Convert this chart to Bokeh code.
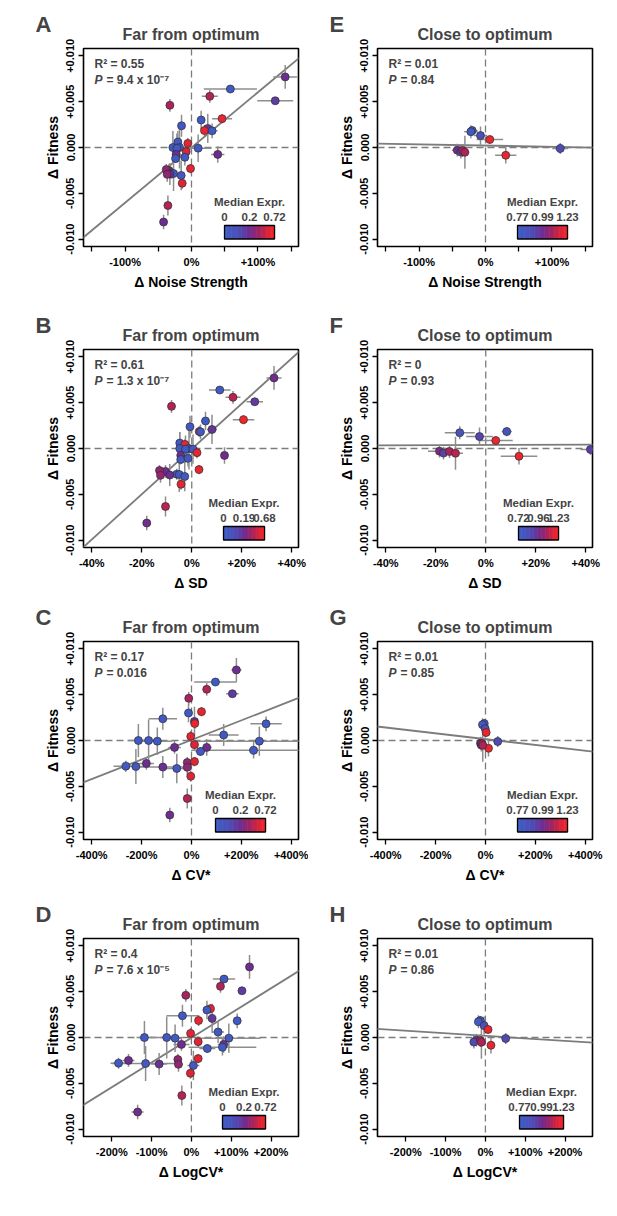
import numpy as np
from bokeh.plotting import figure
from bokeh.models import (Range1d, FixedTicker, CustomJSTickFormatter, Span, Slope,
                          Label, BoxAnnotation, ColumnDataSource, Title)
from bokeh.layouts import column, row
from bokeh.embed import file_html
from bokeh.resources import INLINE

FONT = "Liberation Sans"

# ---------------- data: mutants far from optimum (33) ----------------
far_fitness = [0.00770, 0.00638, 0.00558, 0.00510, 0.00460, 0.00315, 0.00300, 0.00237,
               0.00208, 0.00185, 0.00182, 0.00060, 0.00045, 0.00000, 0.00000, -0.00007,
               -0.00007, -0.00045, -0.00075, -0.00075, -0.00120, -0.00107, -0.00250, -0.00240,
               -0.00230, -0.00280, -0.00284, -0.00290, -0.00305, -0.00293, -0.00390, -0.00633,
               -0.00813]
far_fitness_err = [0.0013, 0.0003, 0.0007, 0.0003, 0.0007, 0.0005, 0.0010, 0.0012,
                   0.0016, 0.0006, 0.0008, 0.0012, 0.0006, 0.0018, 0.0023, 0.0015,
                   0.0016, 0.0006, 0.0007, 0.0009, 0.0005, 0.0009, 0.0007, 0.0006,
                   0.0005, 0.0006, 0.0019, 0.0012, 0.0016, 0.0008, 0.0006, 0.0011,
                   0.0008]
far_expr = [0.20, 0.03, 0.45, 0.16, 0.42, 0.65, 0.03, 0.04, 0.17, 0.65, 0.03, 0.03,
            0.62, 0.03, 0.04, 0.03, 0.04, 0.60, 0.20, 0.20, 0.04, 0.03, 0.20, 0.33,
            0.62, 0.03, 0.04, 0.19, 0.04, 0.32, 0.60, 0.45, 0.20]
far_noise = [141, 58.5, 27.5, 126, -32.5, 46, 14.5, -15, 24.5, 19.5, 31, -20.5, -5.5,
             -28, -18, 10, -22, -8, -23, 39.5, -24, -10, -34, -38, -1.5, -30, -27,
             -32.5, -15.5, -36.5, -14, -35.5, -42]
far_noise_err = [18, 40, 12, 27, 5, 15, 5, 5, 6, 5, 8, 4, 4, 5, 5, 20, 5, 5, 5, 10,
                 4, 5, 4, 4, 5, 4, 4, 4, 4, 4, 4, 4, 4]
far_sd = [32.9, 11.2, 16.5, 25.2, -8.1, 20.7, 5.5, -0.7, 8.1, 3.0, 3.5, -4.8, -2.7,
          -4.8, -1.1, -2.5, 0.5, 2.1, -4.4, 13.1, -4.4, -1.5, -10.5, -12.9, 2.9, -6.0,
          -5.0, -8.8, -2.8, -12.5, -4.3, -10.5, -18]
far_sd_err = [3, 4.3, 3, 3.3, 1.5, 4.3, 1.5, 1, 2, 1, 1.5, 0.7, 1, 1, 1, 1, 1, 1.5, 1,
              1.5, 0.8, 0.8, 1, 1, 1, 1, 1, 1, 1, 1, 1, 1.5, 1.5]
far_cv = [180, 96, 61, 164, -11, 40, -12, -115, 12, 13, 299, 129, -3, -213, -172, -137,
          272, 12, -68, 61, 36, 249, -181, -17, 12, -263, -223, -115, -59, -17, -3, -17,
          -87]
far_cv_err = [20, 85, 15, 25, 5, 10, 10, 57, 10, 10, 63, 60, 5, 40, 40, 60, 250, 15,
              25, 20, 20, 250, 30, 5, 10, 50, 40, 100, 60, 10, 5, 5, 10]
far_logcv = [146, 82, 73, 127, -14, 48, 39, -22.5, 52, 18, 115, 67, -2, -118, -62, -41,
             94, 17, -25, 81, 40, 78, -158, -34, 17, -183, -115, -81, 5, -32.5, -2.5,
             -24, -135]
far_logcv_err = [8, 28, 8, 8, 8, 8, 10, 40, 10, 8, 10, 15, 5, 20, 40, 15, 80, 10, 20,
                 15, 20, 85, 15, 10, 10, 20, 85, 20, 15, 10, 5, 5, 15]

# ---------------- data: mutants close to optimum (10) ----------------
close_fitness = [0.00185, 0.00172, 0.00130, 0.00087, -0.00011, -0.00085, -0.00029,
                 -0.00050, -0.00033, -0.00052]
close_fitness_err = [0.0005, 0.0007, 0.0010, 0.00045, 0.0006, 0.0009, 0.0007, 0.0007,
                     0.0007, 0.0018]
close_expr = [0.80, 0.80, 0.88, 1.20, 0.90, 1.20, 0.99, 0.90, 1.08, 1.10]
close_noise = [-20, -22, -7.5, 6.5, 112.5, 30.5, -42.5, -37, -34.5, -31]
close_noise_err = [8, 10, 10, 20, 12, 16, 8, 6, 8, 6]
close_sd = [8.4, -10.4, -2.5, 4.0, 41.9, 13.3, -18.5, -16.9, -14.5, -12.1]
close_sd_err = [2, 6, 5.3, 6.8, 4, 7.3, 4.6, 3, 3, 3]
close_cv = [-5, -12, -1.3, 2.7, 49, 12, -20, -17, -14, -11]
close_cv_err = [8, 10, 10, 10, 15, 12, 10, 10, 10, 10]
close_logcv = [-13, -17.5, -3.3, 6.7, 51, 14, -22.5, -29, -12.5, -10]
close_logcv_err = [6, 8, 8, 8, 8, 8, 10, 6, 6, 6]

# ---------------- panel texts / axes ----------------
panel_letters = ["A", "B", "C", "D", "E", "F", "G", "H"]
panel_titles = ["Far from optimum"] * 4 + ["Close to optimum"] * 4
x_labels = ["\u0394 Noise Strength", "\u0394 SD", "\u0394 CV*", "\u0394 LogCV*"]
y_label = "\u0394 Fitness"
x_limits = [(-162.5, 161), (-43.3, 42.7), (-433, 429), (-271, 269)]
x_major_ticks = [[-100, 0, 100], [-40, -20, 0, 20, 40], [-400, -200, 0, 200, 400],
                 [-200, -100, 0, 100, 200]]
x_minor_ticks = [[-150, -50, 50, 150], [], [], []]
y_ticks = [-0.010, -0.005, 0.0, 0.005, 0.010]
y_limits = (-0.0108, 0.0108)
fit_slope = [6.03e-5, 2.47e-4, 1.068e-5, 2.70e-5, -1.33e-6, 9.3e-7, -3.16e-6, -2.77e-6]
fit_intercept = [0.0, -5e-5, 6e-5, -3e-5, 2.1e-4, 3.8e-4, 1.5e-4, 1.8e-4]
r_squared = ["0.55", "0.61", "0.17", "0.4", "0.01", "0", "0.01", "0.01"]
p_values = ["9.4 x 10\u207b\u2077", "1.3 x 10\u207b\u2077", "0.016", "7.6 x 10\u207b\u2075",
            "0.84", "0.93", "0.85", "0.86"]
legend_values = [[0, 0.2, 0.72], [0, 0.19, 0.68], [0, 0.2, 0.72], [0, 0.2, 0.72],
                 [0.77, 0.99, 1.23], [0.72, 0.96, 1.23], [0.77, 0.99, 1.23],
                 [0.77, 0.99, 1.23]]

# ---------------- style / geometry ----------------
STOP_POS = [0.0, 0.3, 0.5, 0.7, 0.85, 1.0]
STOP_RGB = [(60, 95, 200), (80, 75, 180), (110, 45, 145), (165, 35, 95),
            (215, 35, 60), (245, 40, 40)]
COL_W = [308, 300]
ROW_H = [305, 293, 297, 313]
ROW_TOP = [48, 44, 43, 43]
FRAME_H = 198
COL_LEFT = [83, 69]
COL_RIGHT = [10, 16]
LEG_W = [50, 41, 50, 43, 50, 40, 50, 44]
LEG_RIGHT = [24, 34, 33, 33, 25, 34, 25, 29]
GREY = "#7c7c7c"
ERR = "#8e8e8e"


def ramp(t):
    t = min(max(t, 0.0), 1.0)
    rgb = [int(round(np.interp(t, STOP_POS, [c[k] for c in STOP_RGB]))) for k in range(3)]
    return "#%02x%02x%02x" % tuple(rgb)


def expr_pos(e, lo, mid, hi):
    if e <= mid:
        return 0.5 * (e - lo) / (mid - lo)
    return 0.5 + 0.5 * (e - mid) / (hi - mid)


def make_panel(i, x, xerr, y, yerr, expr):
    col = 0 if i < 4 else 1
    r = i % 4
    h = ROW_H[r]
    bl, br = COL_LEFT[col], COL_RIGHT[col]
    bt = ROW_TOP[r]
    bb = h - bt - FRAME_H
    fw = COL_W[col] - bl - br
    fh = FRAME_H
    p = figure(width=COL_W[col], height=h, x_range=Range1d(*x_limits[r]),
               y_range=Range1d(*y_limits), output_backend="svg", toolbar_location=None,
               min_border_left=bl, min_border_right=br, min_border_top=bt,
               min_border_bottom=bb, title=panel_letters[i])
    # panel letter (outer title)
    p.title.align = "left"
    p.title.offset = -48
    p.title.standoff = -39
    p.title.text_font = FONT
    p.title.text_font_style = "bold"
    p.title.text_font_size = "22px"
    # panel title (inner title)
    p.add_layout(Title(text=panel_titles[i], align="center", standoff=12,
                       text_font=FONT, text_font_style="bold", text_font_size="16px"),
                 "above")
    p.xgrid.visible = False
    p.ygrid.visible = False
    p.outline_line_color = "black"
    p.outline_line_width = 1.6
    p.background_fill_color = "white"
    p.border_fill_color = "white"

    p.xaxis.axis_label = x_labels[r]
    p.yaxis.axis_label = y_label
    p.xaxis.ticker = FixedTicker(ticks=x_major_ticks[r], minor_ticks=x_minor_ticks[r])
    p.yaxis.ticker = FixedTicker(ticks=y_ticks)
    p.xaxis.formatter = CustomJSTickFormatter(code="return (tick > 0 ? '+' : '') + tick + '%';")
    p.yaxis.formatter = CustomJSTickFormatter(code="return (tick > 0 ? '+' : '') + tick.toFixed(3);")
    p.yaxis.major_label_orientation = "vertical"
    for ax in (p.xaxis[0], p.yaxis[0]):
        ax.axis_line_color = None
        ax.major_tick_in = 0
        ax.major_tick_out = 5
        ax.minor_tick_in = 0
        ax.minor_tick_out = 5
        ax.major_tick_line_color = "black"
        ax.minor_tick_line_color = "black"
        ax.major_tick_line_width = 1.3
        ax.minor_tick_line_width = 1.3
        ax.major_label_text_font = FONT
        ax.major_label_text_font_style = "bold"
        ax.major_label_text_font_size = "11px"
        ax.major_label_text_color = "black"
        ax.axis_label_text_font = FONT
        ax.axis_label_text_font_style = "bold"
        ax.axis_label_text_font_size = "14px"
        ax.axis_label_text_color = "black"
        ax.major_label_standoff = 4
        ax.axis_label_standoff = 3

    for dim in ("width", "height"):
        p.add_layout(Span(location=0, dimension=dim, line_color=GREY, line_width=1.3,
                          line_dash="7 4", level="underlay"))
    p.add_layout(Slope(gradient=fit_slope[i], y_intercept=fit_intercept[i],
                       line_color=GREY, line_width=1.8, level="underlay"))

    lo, mid, hi = legend_values[i]
    xa, xe = np.array(x, float), np.array(xerr, float)
    ya, ye = np.array(y, float), np.array(yerr, float)
    colors = [ramp(expr_pos(e, lo, mid, hi)) for e in expr]
    src = ColumnDataSource(dict(x=xa, y=ya, x0=xa - xe, x1=xa + xe, y0=ya - ye,
                                y1=ya + ye, color=colors))
    p.segment(x0="x0", y0="y", x1="x1", y1="y", source=src, line_color=ERR, line_width=1.5)
    p.segment(x0="x", y0="y0", x1="x", y1="y1", source=src, line_color=ERR, line_width=1.5)
    p.scatter(x="x", y="y", source=src, size=8, marker="circle", fill_color="color",
              line_color="#2e2e2e", line_width=0.7)

    p.add_layout(Label(x=11, y=fh - 15.5, x_units="screen", y_units="screen",
                       text="R\u00b2 = " + r_squared[i], text_baseline="middle",
                       text_font=FONT, text_font_style="bold", text_font_size="12px"))
    p.add_layout(Label(x=11, y=fh - 31, x_units="screen", y_units="screen", text="P",
                       text_baseline="middle", text_font=FONT,
                       text_font_style="bold italic", text_font_size="12px"))
    p.add_layout(Label(x=23, y=fh - 31, x_units="screen", y_units="screen",
                       text="= " + p_values[i], text_baseline="middle", text_font=FONT,
                       text_font_style="bold", text_font_size="12px"))

    w = LEG_W[i]
    cx = fw - LEG_RIGHT[i] - w / 2.0
    left = cx - w / 2.0
    n = 30
    for k in range(n):
        p.add_layout(BoxAnnotation(left=left + k * w / n, right=left + (k + 1) * w / n + 0.6,
                                   bottom=7.5, top=21, left_units="screen",
                                   right_units="screen", bottom_units="screen",
                                   top_units="screen", fill_color=ramp((k + 0.5) / n),
                                   fill_alpha=1.0, line_color=None))
    p.add_layout(BoxAnnotation(left=left, right=left + w, bottom=7.5, top=21,
                               left_units="screen", right_units="screen",
                               bottom_units="screen", top_units="screen",
                               fill_alpha=0.0, line_color="black", line_width=1.3,
                               line_alpha=1.0))
    p.add_layout(Label(x=cx, y=45, x_units="screen", y_units="screen", text="Median Expr.",
                       text_align="center", text_baseline="middle", text_font=FONT,
                       text_font_style="bold", text_font_size="11.5px"))
    for pos, v in zip((left, cx, left + w), legend_values[i]):
        p.add_layout(Label(x=pos, y=29.5, x_units="screen", y_units="screen",
                           text=f"{v:g}", text_align="center", text_baseline="middle",
                           text_font=FONT, text_font_style="bold",
                           text_font_size="11.5px"))
    return p


far_x = [(far_noise, far_noise_err), (far_sd, far_sd_err), (far_cv, far_cv_err),
         (far_logcv, far_logcv_err)]
close_x = [(close_noise, close_noise_err), (close_sd, close_sd_err),
           (close_cv, close_cv_err), (close_logcv, close_logcv_err)]

panels = []
for r in range(4):
    pl = make_panel(r, far_x[r][0], far_x[r][1], far_fitness, far_fitness_err, far_expr)
    pr = make_panel(r + 4, close_x[r][0], close_x[r][1], close_fitness, close_fitness_err,
                    close_expr)
    panels.append(row(pl, pr))

layout = column(*panels)
open("out.html", "w").write(file_html(layout, INLINE))
